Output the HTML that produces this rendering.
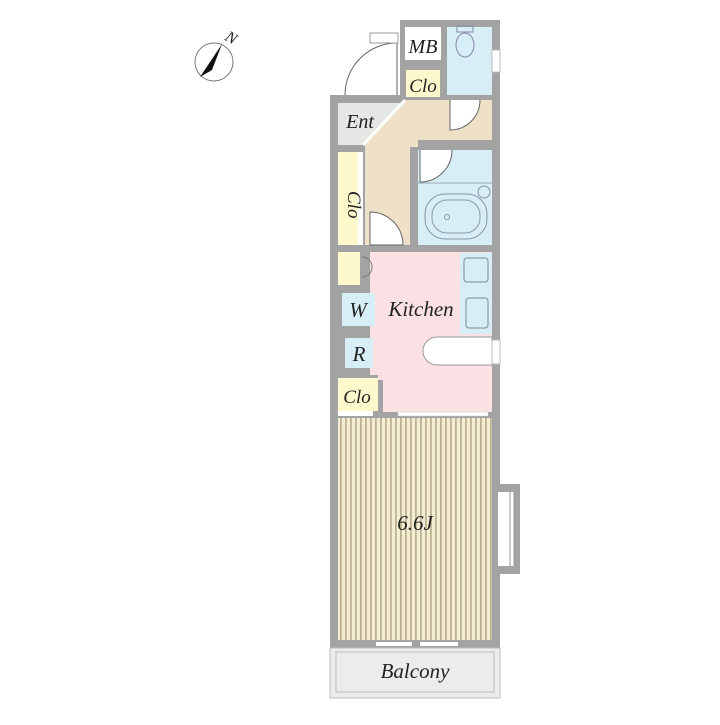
<!DOCTYPE html>
<html><head><meta charset="utf-8"><style>
body{margin:0;background:#fff;}
svg text{font-family:"Liberation Serif",serif;font-style:italic;font-weight:normal;fill:#222;}
</style></head><body>
<svg width="720" height="720" viewBox="0 0 720 720" xmlns="http://www.w3.org/2000/svg">
<defs>
<pattern id="st" width="5" height="10" patternUnits="userSpaceOnUse">
<rect width="5" height="10" fill="#f3edd3"/><rect x="0" width="1.8" height="10" fill="#bfb292"/>
</pattern>
</defs>
<!-- compass -->
<circle cx="214" cy="62" r="19" fill="#fff" stroke="#777" stroke-width="1"/>
<polygon points="222,44 200,77 212,70" fill="#111"/>
<text x="226" y="40" font-size="16" transform="rotate(30 226 36)">N</text>

<rect x="330" y="95" width="170" height="553" fill="#a3a3a3"/>
<rect x="400" y="20" width="100" height="80" fill="#a3a3a3"/>
<rect x="330" y="648" width="170" height="50" fill="#ececea" stroke="#bdbdbd"/>
<rect x="336" y="652" width="158" height="40" fill="#ececea" stroke="#bdbdbd"/>
<text x="415" y="678" font-size="21" text-anchor="middle">Balcony</text>

<rect x="405" y="27" width="36" height="33" fill="#fff"/>
<text x="423" y="53" font-size="20" text-anchor="middle">MB</text>
<rect x="406" y="70" width="34" height="27" fill="#fdf9cc"/>
<text x="423" y="92" font-size="19" text-anchor="middle">Clo</text>
<rect x="447" y="27" width="45" height="68" fill="#d8eef6"/>
<ellipse cx="465" cy="45" rx="9" ry="12" fill="none" stroke="#88a" stroke-width="1"/>
<rect x="457" y="26" width="16" height="6" fill="none" stroke="#88a"/>
<path d="M345 95 A52 52 0 0 1 397 43" fill="none" stroke="#666"/>
<line x1="397" y1="43" x2="397" y2="95" stroke="#666"/>
<rect x="370" y="33" width="28" height="10" fill="none" stroke="#999"/>

<polygon points="405,100 492,100 492,140 418,140 418,147 410,147 410,245 365,245 365,145" fill="#eee1c7"/>
<rect x="418" y="100" width="74" height="40" fill="#eee1c7"/>
<path d="M450 100 L450 130 A30 30 0 0 0 480 100" fill="#fff" stroke="#666"/>
<path d="M370 245 L370 212 A33 33 0 0 1 403 245 Z" fill="#fff" stroke="#666"/>
<polygon points="338,103 405,103 363,145 338,145" fill="#e6e6e5"/>
<line x1="405" y1="100" x2="363" y2="145" stroke="#fff" stroke-width="3"/>
<text x="360" y="128" font-size="20" text-anchor="middle">Ent</text>
<rect x="338" y="152" width="20" height="93" fill="#fdf9cc"/>
<rect x="358" y="152" width="5" height="93" fill="#fff"/>
<text x="341" y="198" font-size="19" transform="rotate(90 348 198)">Clo</text>
<rect x="418" y="150" width="74" height="95" fill="#d8eef6"/>
<path d="M420 150 L420 182 A32 32 0 0 0 452 150" fill="#fff" stroke="#666"/>
<line x1="418" y1="183" x2="492" y2="183" stroke="#9ab"/>
<rect x="425" y="194" width="62" height="45" rx="20" fill="none" stroke="#89a"/>
<rect x="432" y="200" width="48" height="33" rx="15" fill="none" stroke="#89a"/>
<circle cx="447" cy="217" r="2.5" fill="none" stroke="#89a"/>
<circle cx="484" cy="192" r="6" fill="none" stroke="#89a"/>

<polygon points="370,252 492,252 492,412 383,412 383,380 378,380 378,375 370,375" fill="#fbe1e3"/>
<rect x="460" y="253" width="32" height="81" fill="#d8eef6"/>
<rect x="464" y="258" width="24" height="24" rx="3" fill="none" stroke="#789"/>
<rect x="466" y="298" width="22" height="30" rx="3" fill="none" stroke="#789"/>
<path d="M492 337 L437 337 A14 14 0 0 0 437 365 L492 365 Z" fill="#fff" stroke="#999"/>
<text x="421" y="316" font-size="21" text-anchor="middle">Kitchen</text>
<rect x="338" y="252" width="22" height="33" fill="#fdf9cc"/>
<path d="M362 257 A10 10 0 0 1 372 267 M362 277 A10 10 0 0 0 372 267" fill="none" stroke="#777"/>
<rect x="342" y="293" width="33" height="33" fill="#d8eef6"/>
<text x="358" y="317" font-size="21" text-anchor="middle">W</text>
<rect x="345" y="338" width="28" height="30" fill="#d8eef6"/>
<text x="359" y="361" font-size="21" text-anchor="middle">R</text>
<rect x="338" y="378" width="40" height="33" fill="#fdf9cc"/>
<text x="357" y="403" font-size="19" text-anchor="middle">Clo</text>
<rect x="338" y="411" width="35" height="5" fill="#fff"/>
<rect x="398" y="412" width="90" height="4" fill="#fff" stroke="#ccc" stroke-width="0.5"/>

<rect x="338" y="418" width="154" height="222" fill="url(#st)"/>
<text x="415" y="530" font-size="21" text-anchor="middle">6.6J</text>
<rect x="376" y="642" width="36" height="4" fill="#fff"/>
<rect x="420" y="642" width="38" height="4" fill="#fff"/>
<rect x="498" y="484" width="22" height="90" fill="#a3a3a3"/>
<rect x="498" y="492" width="16" height="74" fill="#fff"/>
<line x1="510" y1="492" x2="510" y2="566" stroke="#999"/>
<line x1="514" y1="492" x2="514" y2="566" stroke="#999"/>
<rect x="492" y="340" width="8" height="24" fill="#fff" stroke="#bbb"/>
<rect x="492" y="50" width="8" height="22" fill="#fff" stroke="#bbb"/>
</svg>
</body></html>
